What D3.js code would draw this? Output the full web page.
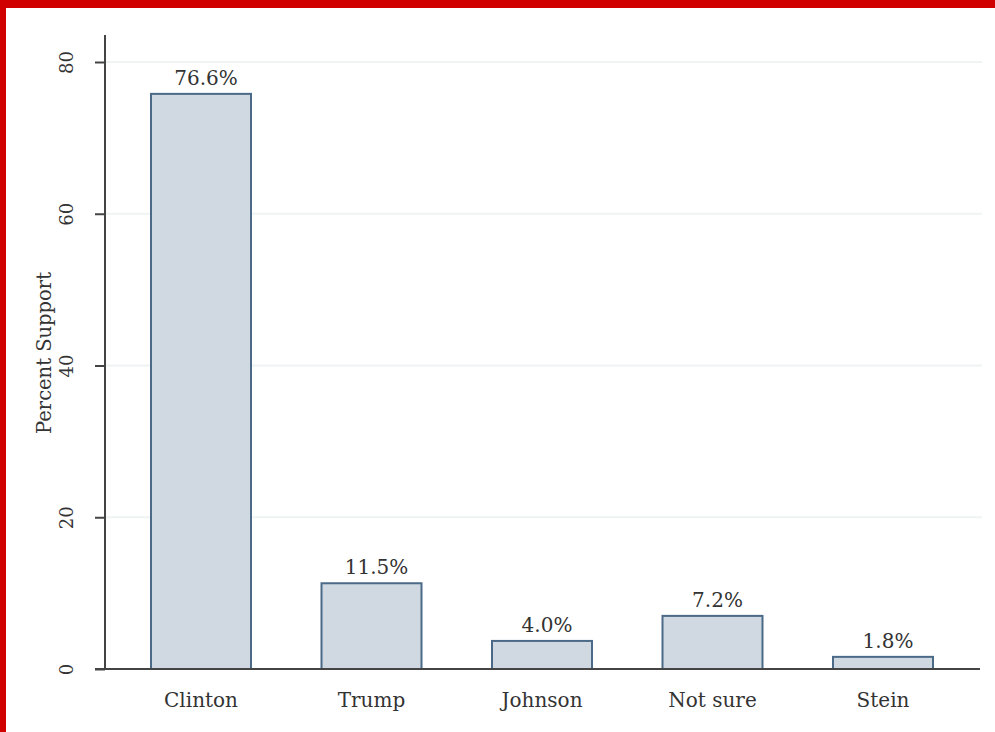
<!DOCTYPE html>
<html>
<head>
<meta charset="utf-8">
<script src="https://cdn.jsdelivr.net/npm/d3@7"></script>
<style>
  body { margin: 0; background: #fff; }
  svg text { font-family: "DejaVu Serif", serif; fill: #333; }
</style>
</head>
<body>
<div id="chart"></div>
<script>
const categories = ["Clinton", "Trump", "Johnson", "Not sure", "Stein"];
// bar heights as drawn in the picture
const barValues = [75.8, 11.3, 3.7, 7.0, 1.6];
// printed labels above the bars
const labelValues = ["76.6%", "11.5%", "4.0%", "7.2%", "1.8%"];
const yTicks = [0, 20, 40, 60, 80];

const width = 995;
const height = 732;

let svg = d3.select("#chart")
    .append("svg")
    .attr("width", width)
    .attr("height", height);

// red frame (top and left)
svg.append("rect").attr("x", 0).attr("y", 0).attr("width", width).attr("height", 8).attr("fill", "#d00000");
svg.append("rect").attr("x", 0).attr("y", 0).attr("width", 6).attr("height", height).attr("fill", "#d00000");

let x = d3.scaleBand()
    .domain(categories)
    .range([115.75, 968.25])
    .paddingInner(0.4135)
    .paddingOuter(0.20675);

let y = d3.scaleLinear()
    .domain([0, 80])
    .range([669, 62]);

// gridlines
svg.selectAll(".grid")
    .data(yTicks.filter(d => d > 0))
    .join("line")
    .attr("class", "grid")
    .attr("x1", 106).attr("x2", 982)
    .attr("y1", d => y(d)).attr("y2", d => y(d))
    .attr("stroke", "#eef3f3")
    .attr("stroke-width", 2);

// bars
svg.selectAll(".bar")
    .data(barValues)
    .join("rect")
    .attr("class", "bar")
    .attr("x", (d, i) => x(categories[i]))
    .attr("y", d => y(d))
    .attr("width", x.bandwidth())
    .attr("height", d => y(0) - y(d))
    .attr("fill", "#d0d9e2")
    .attr("stroke", "#4b6a87")
    .attr("stroke-width", 2);

// value labels
svg.selectAll(".val")
    .data(barValues)
    .join("text")
    .attr("class", "val")
    .attr("x", (d, i) => x(categories[i]) + x.bandwidth() / 2 + 5)
    .attr("y", d => y(d) - 9)
    .attr("text-anchor", "middle")
    .attr("font-size", 20)
    .text((d, i) => labelValues[i]);

// y axis
let yAxis = svg.append("g")
    .attr("transform", "translate(105,0)")
    .call(d3.axisLeft(y).tickValues(yTicks).tickSize(10).tickFormat(d3.format("d")));
yAxis.select(".domain").remove();
yAxis.selectAll(".tick line").attr("stroke", "#444").attr("stroke-width", 2);
yAxis.selectAll(".tick text")
    .attr("transform", "rotate(-90)")
    .attr("x", 0).attr("dx", null)
    .attr("y", -32).attr("dy", "0")
    .attr("text-anchor", "middle")
    .attr("font-size", 18)
    .attr("fill", "#333");
yAxis.append("line")
    .attr("x1", 0).attr("x2", 0)
    .attr("y1", 35).attr("y2", y(0) + 1)
    .attr("stroke", "#444").attr("stroke-width", 2);

// x axis
let xAxis = svg.append("g")
    .attr("transform", "translate(0," + y(0) + ")")
    .call(d3.axisBottom(x).tickSize(0).tickPadding(24));
xAxis.select(".domain").remove();
xAxis.selectAll(".tick text").attr("font-size", 20).attr("fill", "#333");
xAxis.append("line")
    .attr("x1", 95).attr("x2", 980)
    .attr("y1", 0).attr("y2", 0)
    .attr("stroke", "#444").attr("stroke-width", 2);

// y label
svg.append("text")
    .attr("transform", "translate(51,353) rotate(-90)")
    .attr("text-anchor", "middle")
    .attr("font-size", 19.5)
    .text("Percent Support");
</script>
</body>
</html>
